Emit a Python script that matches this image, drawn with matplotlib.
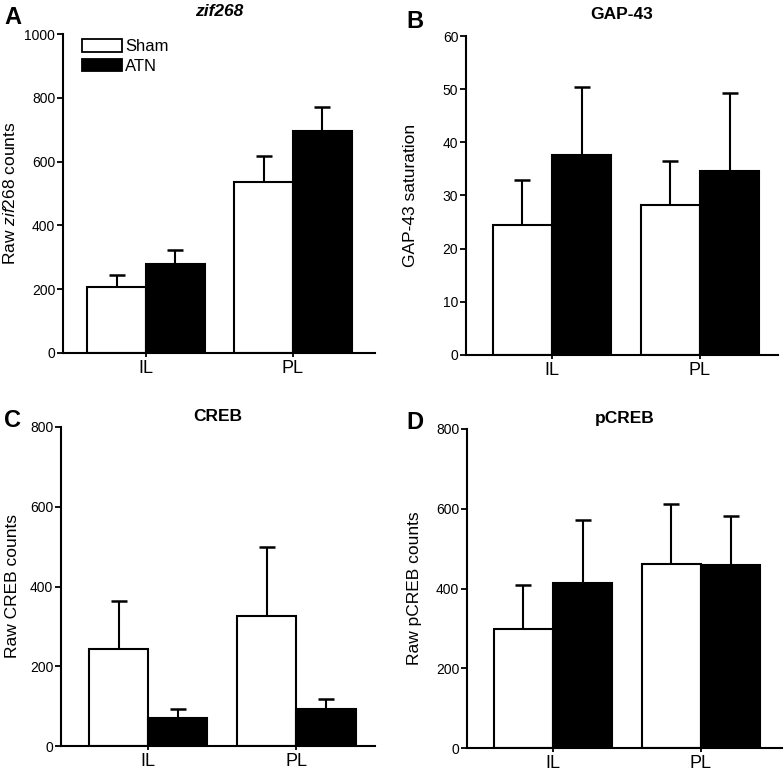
import numpy as np
import matplotlib
matplotlib.use('Agg')
import matplotlib.pyplot as plt
from matplotlib.patches import Patch

plt.rcParams['font.family'] = ['Liberation Sans', 'DejaVu Sans']
plt.rcParams['mathtext.fontset'] = 'custom'
plt.rcParams['mathtext.rm'] = 'Liberation Sans'
plt.rcParams['mathtext.it'] = 'Liberation Sans:italic'

groups = ['IL', 'PL']
series = ['Sham', 'ATN']

zif_sham = [206, 535]
zif_sham_err = [39, 83]
zif_atn = [279, 697]
zif_atn_err = [44, 75]

gap_sham = [24.4, 28.2]
gap_sham_err = [8.6, 8.2]
gap_atn = [37.6, 34.7]
gap_atn_err = [12.9, 14.5]

creb_sham = [244, 326]
creb_sham_err = [120, 173]
creb_atn = [71, 94]
creb_atn_err = [21, 23]

pcreb_sham = [298, 461]
pcreb_sham_err = [112, 152]
pcreb_atn = [415, 460]
pcreb_atn_err = [158, 123]

W, H = 784, 771
fig = plt.figure(figsize=(W / 100, H / 100), dpi=100)


def px_axes(x0, x1, ytop, ybot):
    return fig.add_axes([x0 / W, 1 - ybot / H, (x1 - x0) / W, (ybot - ytop) / H])


def draw_bars(ax, xs, vals, errs, color):
    ax.bar(xs, vals, 0.40, color=color, edgecolor='black', linewidth=1.5, zorder=2)
    tops = np.array(vals) + np.array(errs)
    # upper-only error bar: stem plus a cap at the top
    ax.vlines(xs, vals, tops, color='black', linewidth=1.5, zorder=1)
    ax.plot(xs, tops, linestyle='none', marker='_', markersize=11,
            markeredgewidth=1.8, color='black', zorder=1, clip_on=False)


def draw_panel(ax, sham, sham_err, atn, atn_err, ymax, yticks, xlim):
    x = np.arange(len(groups))
    draw_bars(ax, x - 0.2, sham, sham_err, 'white')
    draw_bars(ax, x + 0.2, atn, atn_err, 'black')
    ax.set_xlim(*xlim)
    ax.set_ylim(0, ymax)
    ax.set_yticks(yticks)
    ax.set_xticks(x)
    ax.set_xticklabels(groups, fontsize=13)
    ax.tick_params(axis='y', labelsize=10, length=4, width=1.3, pad=1.5)
    ax.tick_params(axis='x', length=3, width=1.3, pad=2)
    for s in ['top', 'right']:
        ax.spines[s].set_visible(False)
    for s in ['left', 'bottom']:
        ax.spines[s].set_linewidth(1.5)


# A
axA = px_axes(63, 375, 34, 353)
draw_panel(axA, zif_sham, zif_sham_err, zif_atn, zif_atn_err, 1000,
           [0, 200, 400, 600, 800, 1000], (-0.565, 1.558))
axA.set_ylabel('Raw $\\it{zif268}$ counts', fontsize=12.5)
axA.yaxis.set_label_coords(-0.144, 0.5)
axA.set_title('zif268', fontsize=12.5, fontweight='bold', style='italic', pad=13)
handles = [Patch(facecolor='white', edgecolor='black', linewidth=1.3),
           Patch(facecolor='black', edgecolor='black', linewidth=1.3)]
axA.legend(handles, series, loc='upper left', bbox_to_anchor=(0.03, 1.015),
           frameon=False, fontsize=12, handlelength=2.4, handleheight=0.8,
           handletextpad=0.15, labelspacing=0.25, borderaxespad=0.2)

# B
axB = px_axes(466, 778, 36, 355)
draw_panel(axB, gap_sham, gap_sham_err, gap_atn, gap_atn_err, 60,
           [0, 10, 20, 30, 40, 50, 60], (-0.58, 1.527))
axB.set_ylabel('GAP-43 saturation', fontsize=12.5)
axB.yaxis.set_label_coords(-0.154, 0.5)
axB.set_title('GAP-43', fontsize=12.5, fontweight='bold', pad=12)

# C
axC = px_axes(61, 375, 427, 746)
draw_panel(axC, creb_sham, creb_sham_err, creb_atn, creb_atn_err, 800,
           [0, 200, 400, 600, 800], (-0.588, 1.53))
axC.set_ylabel('Raw CREB counts', fontsize=12.5)
axC.yaxis.set_label_coords(-0.131, 0.5)
axC.set_title('CREB', fontsize=12.5, fontweight='bold', pad=4)

# D
axD = px_axes(467, 782, 429, 748)
draw_panel(axD, pcreb_sham, pcreb_sham_err, pcreb_atn, pcreb_atn_err, 800,
           [0, 200, 400, 600, 800], (-0.58, 1.547))
axD.set_ylabel('Raw pCREB counts', fontsize=12.5)
axD.yaxis.set_label_coords(-0.143, 0.5)
axD.set_title('pCREB', fontsize=12.5, fontweight='bold', pad=4)

for lab, xp, yp in [('A', 4, 6), ('B', 406, 10), ('C', 4, 409), ('D', 406, 411)]:
    fig.text(xp / W, 1 - yp / H, lab, fontsize=17, fontweight='bold', va='top', ha='left')

fig.savefig('out.png', dpi=100)
